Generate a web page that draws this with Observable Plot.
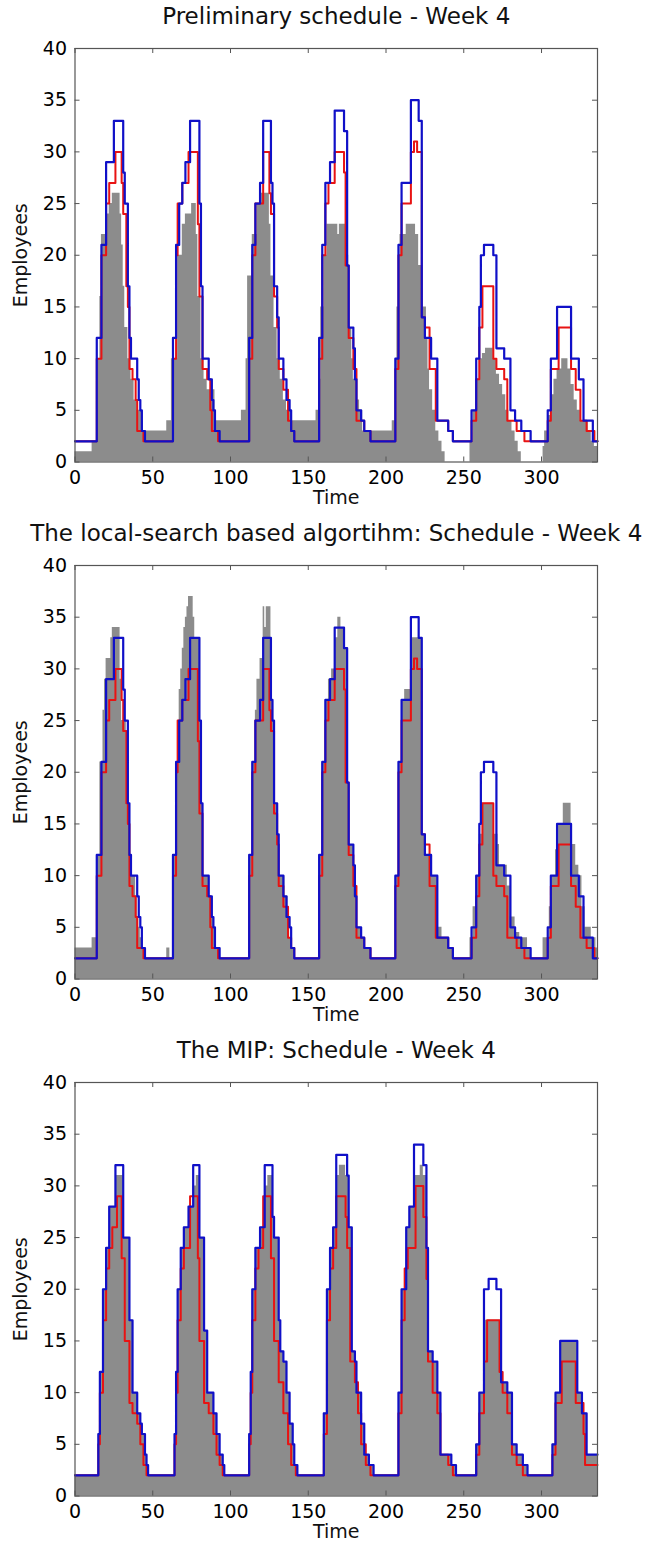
<!DOCTYPE html>
<html><head><meta charset="utf-8">
<script src="https://cdn.jsdelivr.net/npm/d3@7"></script>
<script src="https://cdn.jsdelivr.net/npm/@observablehq/plot@0.6"></script>
<style>
body{margin:0;background:#fff;}
#charts > *{display:block;}
</style></head><body><div id="charts"></div>
<script>
// x in half-hour slots (0..336), y = employees; each pair = [start slot, value] of a step
const titles = ["Preliminary schedule - Week 4", "The local-search based algortihm: Schedule - Week 4", "The MIP: Schedule - Week 4"];
const xTicks = [0, 50, 100, 150, 200, 250, 300];
const yTicks = [0, 5, 10, 15, 20, 25, 30, 35, 40];

// blue demand line, panels 1 and 2
const blue12 = [
[0,2],[14,12],[17,21],[20,29],[25,33],[31,28],[32,25],[34,17],[35,12],[36,10],[40,8],[41,6],[42,5],[43,3],[45,2],
[63,12],[65,21],[67,25],[69,27],[71,29],[74,33],[80,25],[81,17],[82,10],[86,8],[88,6],[89,5],[90,3],[93,2],
[112,12],[114,21],[116,25],[119,27],[121,33],[126,27],[127,25],[128,17],[130,14],[131,10],[134,8],[136,6],[138,5],[139,3],[141,2],
[157,12],[159,21],[161,27],[164,29],[167,34],[173,32],[175,19],[176,13],[179,11],[180,8],[181,5],[184,4],[186,3],[190,2],
[206,10],[208,21],[210,27],[216,35],[221,33],[223,14],[225,12],[229,10],[233,4],[240,3],[243,2],
[255,5],[258,10],[260,15],[261,20],[263,21],[269,20],[271,11],[276,10],[280,5],[283,4],[287,3],[293,2],
[304,5],[306,10],[310,15],[319,10],[324,8],[327,4],[333,2]
];
// red line, panels 1 and 2
const red12 = [
[0,2],[14,10],[17,20],[20,25],[22,27],[26,30],[30,27],[31,24],[33,17],[34,15],[35,9],[37,8],[39,6],[40,3],[44,2],
[63,10],[65,20],[66,25],[69,27],[73,30],[79,23],[80,16],[82,9],[85,8],[87,5],[88,3],[92,2],
[112,10],[114,20],[116,25],[121,30],[125,26],[126,24],[128,16],[130,13],[131,9],[134,7],[137,4],[139,3],[141,2],
[157,10],[159,20],[161,25],[163,27],[167,30],[173,28],[174,19],[176,12],[179,9],[181,4],[186,3],[190,2],
[206,9],[208,20],[210,25],[216,30],[218,31],[220,30],[223,14],[225,13],[228,9],[232,4],[240,3],[243,2],
[255,4],[258,8],[260,13],[262,17],[269,10],[271,9],[276,8],[278,4],[284,3],[289,2],
[304,4],[306,9],[311,13],[319,9],[322,7],[325,4],[329,3],[334,2]
];
// gray scheduled staff, panel 1
const gray1 = [
[0,1],[11,2],[14,5],[15,10],[16,16],[17,22],[20,24],[22,25],[24,26],[29,24],[30,21],[31,17],[32,13],[34,10],[36,8],[38,6],[40,5],[43,4],[44,3],[59,4],
[62,10],[66,20],[69,23],[71,24],[75,25],[78,22],[79,16],[81,10],[83,8],[85,7],[90,5],[91,4],[107,5],
[110,10],[111,18],[114,22],[117,25],[119,26],[125,23],[126,18],[128,13],[130,10],[132,8],[134,6],[136,5],[139,4],[155,5],
[157,8],[158,15],[160,20],[162,23],[169,22],[170,23],[174,20],[176,13],[178,10],[179,8],[181,6],[183,5],[185,3],[204,4],
[206,10],[207,15],[208,20],[209,22],[213,23],[219,22],[221,19],[223,15],[226,12],[227,9],[228,7],[230,5],[232,3],[234,2],[236,1],[238,0],
[254,2],[256,5],[258,8],[260,10],[262,10.5],[264,11],[269,10],[271,8.5],[273,7.5],[275,6.5],[277,5],[279,4],[281,3],[283,2],[285,1],[287,0],
[301,1.5],[302,3],[304,4.5],[306,6.5],[308,8],[310,9],[313,10],[317,9],[319,7.5],[321,6],[323,5],[325,4],[330,3],[332,2],[334,1.5]
];
// gray scheduled staff, panel 2
const gray2 = [
[0,3],[11,4],[14,12],[16,21],[18,26],[19,29],[20,31],[23,33],[24,34],[29,29],[30,25],[33,17],[35,12],[36,10],[39,8],[40,6],[41,5],[42,4],[43,3],[44,2],[59,3],[61,2],
[63,12],[65,21],[67,28],[68,30],[69,32],[70,34],[71,35],[72,36],[73,37],[76,35],[77,33],[80,25],[81,17],[82,10],[86,8],[88,6],[89,5],[90,3],[93,2],
[112,12],[114,21],[116,26],[117,29],[119,31],[121,36],[122,34],[123,36],[126,27],[127,25],[128,17],[130,14],[131,10],[135,8],[137,6],[138,4],[139,3],[141,2],
[157,12],[159,21],[161,27],[163,29],[165,30],[167,33],[169,35],[171,34],[173,32],[175,19],[176,13],[179,11],[180,8],[181,5],[184,4],[186,3],[190,2],
[206,10],[208,21],[210,27],[212,28],[216,33],[223,14],[225,12],[229,10],[233,5],[236,4],[240,3],[243,2],
[254,4],[256,7],[258,10],[260,14],[262,17],[269,14],[272,13],[273,11],[278,9],[280,6],[283,4.5],[286,4],[291,3],[293,2],
[301,4],[305,7],[307,10],[309,12.5],[311,15],[314,17],[319,13],[322,11],[324,10],[326,7],[328,5],[332,4],[335,3]
];
// blue line, panel 3
const blue3 = [
[0,2],[15,6],[16,12],[18,20],[20,24],[22,28],[26,32],[31,25],[35,17],[37,10],[40,8],[42,7],[43,6],[45,4],[46,3],[47,2],
[64,6],[65,12],[66,20],[68,24],[70,26],[73,28],[76,32],[80,25],[83,16],[85,10],[89,8],[91,6],[93,4],[95,3],[96,2],
[112,6],[113,12],[114,20],[116,24],[119,26],[122,32],[127,27],[128,25],[131,17],[132,14],[134,13],[136,10],[138,7],[140,5],[141,3],[143,2],
[160,8],[162,20],[164,24],[166,26],[168,33],[175,31],[176,26],[178,14],[180,13],[181,10],[184,7],[186,4],[189,3],[192,2],
[208,10],[210,20],[213,26],[215,28],[218,34],[224,32],[226,24],[227,14],[230,13],[233,10],[235,4],[242,3],[245,2],
[258,5],[260,10],[263,20],[266,21],[271,20],[274,11],[278,10],[281,5],[284,4],[288,3],[291,2],
[307,5],[309,10],[312,15],[323,10],[326,8],[329,4]
];
// red line, panel 3
const red3 = [
[0,2],[15,5],[16,10],[18,17],[20,22],[22,24],[24,26],[27,29],[30,23],[32,15],[35,9],[37,8],[40,7],[42,5],[44,3],[46,2],
[64,5],[65,10],[66,17],[68,22],[70,24],[74,29],[79,23],[80,15],[83,9],[86,8],[89,6],[91,4],[93,3],[95,2],
[112,5],[113,10],[114,17],[116,22],[118,24],[121,29],[126,23],[128,15],[131,11],[134,8],[137,5],[139,3],[142,2],
[160,6],[162,17],[164,22],[166,24],[168,29],[174,27],[175,24],[177,13],[180,11],[182,8],[184,5],[187,3],[190,2],
[208,8],[210,17],[212,22],[214,24],[219,30],[224,27],[226,21],[227,13],[230,10],[233,8],[235,4],[240,3],[243,2],
[258,4],[260,8],[263,13],[265,17],[273,12],[275,10],[278,8],[281,4],[284,3],[288,2],
[307,4],[309,9],[313,13],[322,9],[327,6],[328,3]
];
// gray scheduled staff, panel 3
const gray3 = [
[0,2],[15,6],[16,12],[18,20],[20,24],[22,28],[26,31],[31,25],[35,17],[37,10],[40,8],[42,7],[43,6],[45,4],[46,3],[47,2],
[64,6],[65,12],[66,20],[68,24],[70,26],[73,28],[76,30],[78,31],[80,25],[83,16],[85,10],[89,8],[91,6],[93,4],[95,3],[96,2],
[112,6],[113,12],[114,20],[116,24],[119,26],[122,30],[124,31],[127,27],[128,25],[131,17],[132,14],[134,13],[136,10],[138,7],[140,5],[141,3],[143,2],
[160,8],[162,20],[164,24],[166,26],[168,31],[170,32],[174,31],[176,26],[178,14],[180,13],[181,10],[184,7],[186,4],[189,3],[192,2],
[208,10],[210,20],[213,26],[215,28],[218,31],[222,32],[224,31],[226,24],[227,14],[230,13],[233,10],[235,4],[242,3],[245,2],
[258,5],[260,10],[263,17],[274,11],[278,10],[281,5],[284,4],[288,3],[291,2],
[307,5],[309,10],[312,15],[323,10],[326,8],[329,4]
];

const XMAX = 336;
const W = 648, H = 517, MT = 48, MB = 55.5, ML = 74.5, MR = 51;
const PH = H - MT - MB, PW = W - ML - MR;
const FONT = "'DejaVu Sans', Verdana, sans-serif";
const AX = "#555";

function steps(pairs) {
  const a = pairs.map(([x, y]) => ({x, y}));
  a.push({x: XMAX, y: pairs[pairs.length - 1][1]});
  return a;
}

function panel(title, gray, red, blue) {
  return Plot.plot({
    width: W, height: H,
    marginTop: MT, marginBottom: MB, marginLeft: ML, marginRight: MR,
    style: {fontFamily: FONT, fontSize: "19px", color: "#000", background: "#fff", overflow: "visible"},
    x: {domain: [0, XMAX], ticks: xTicks, tickSize: 0, tickPadding: 8, label: null},
    y: {domain: [0, 40], ticks: yTicks, tickSize: 0, tickPadding: 8, label: null},
    marks: [
      Plot.areaY(steps(gray), {x: "x", y: "y", curve: "step-after", fill: "#8c8c8c"}),
      Plot.line(steps(red), {x: "x", y: "y", curve: "step-after", stroke: "#e81313", strokeWidth: 2}),
      Plot.line(steps(blue), {x: "x", y: "y", curve: "step-after", stroke: "#1010c8", strokeWidth: 2.2}),
      Plot.frame({stroke: AX, strokeWidth: 1.2}),
      Plot.ruleX(xTicks, {x: d => d, insetTop: PH - 5, stroke: AX}),
      Plot.ruleX(xTicks, {x: d => d, insetBottom: PH - 5, stroke: AX}),
      Plot.ruleY(yTicks, {y: d => d, insetRight: PW - 5, stroke: AX}),
      Plot.ruleY(yTicks, {y: d => d, insetLeft: PW - 5, stroke: AX}),
      Plot.text([title], {text: d => d, frameAnchor: "top", lineAnchor: "middle", dy: -32, fontSize: 23, fill: "#111"}),
      Plot.text(["Time"], {text: d => d, frameAnchor: "bottom", lineAnchor: "middle", dy: 36, fontSize: 19, fill: "#111"}),
      Plot.text(["Employees"], {text: d => d, frameAnchor: "left", textAnchor: "middle", lineAnchor: "middle", dx: -54, rotate: -90, fontSize: 19, fill: "#111"})
    ]
  });
}

const root = document.getElementById("charts");
root.append(panel(titles[0], gray1, red12, blue12));
root.append(panel(titles[1], gray2, red12, blue12));
root.append(panel(titles[2], gray3, red3, blue3));
</script>
</body></html>
